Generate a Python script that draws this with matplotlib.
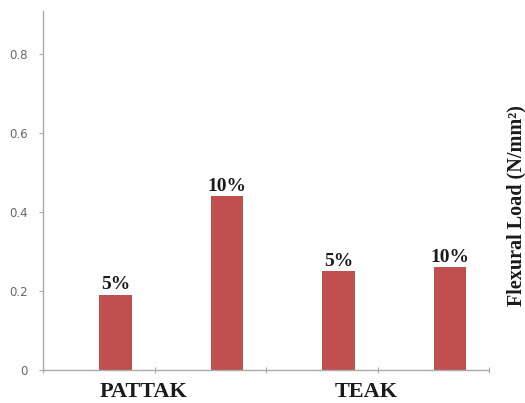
import matplotlib
matplotlib.use("Agg")
import matplotlib.pyplot as plt
import numpy as np

groups = ["PATTAK", "TEAK"]
bar_labels = ["5%", "10%", "5%", "10%"]
values = [0.19, 0.44, 0.25, 0.26]
yticks = [0, 0.2, 0.4, 0.6, 0.8]
ytick_labels = ["0", "0.2", "0.4", "0.6", "0.8"]
ylabel = "Flexural Load (N/mm²)"

fig = plt.figure(figsize=(5.25, 4.03), dpi=100)
ax = fig.add_axes([43/525, 33/403, (489-43)/525, (370-11)/403])

x = np.arange(len(values)) + 0.65
color = "#C0504D"
ax.bar(x, values, width=0.29, color=color)
serif = ["Liberation Serif", "DejaVu Serif"]
for xi, v, lab in zip(x, values, bar_labels):
    ax.text(xi, v + 0.004, lab, ha="center", va="bottom", fontsize=14,
            fontweight="bold", family=serif, color="#1a1a1a")

ax.set_xlim(0, len(values))
ax.set_ylim(0, 0.909)
ax.set_yticks(yticks)
ax.set_yticklabels(ytick_labels, fontsize=8.5, color="#666666")
ax.set_xticks(np.arange(len(values) + 1))
ax.set_xticklabels([])
ax.tick_params(axis="x", direction="inout", length=5, color="#aaaaaa")
ax.tick_params(axis="y", direction="out", length=3, color="#aaaaaa", pad=8)

for s in ["top", "right"]:
    ax.spines[s].set_visible(False)
for s in ["left", "bottom"]:
    ax.spines[s].set_color("#aaaaaa")
    ax.spines[s].set_linewidth(1.0)

n_per = len(values) // len(groups)
for gi, g in enumerate(groups):
    cx = np.mean(x[gi*n_per:(gi+1)*n_per])
    ax.text(cx - 0.25, -0.055, g, ha="center", va="center", fontsize=16,
            fontweight="bold", family=serif, color="#1a1a1a")

fig.text(0.983, 0.49, ylabel, rotation=90, ha="center", va="center",
         fontsize=14.5, fontweight="bold", family=serif, color="#1a1a1a")

fig.savefig("out.png", dpi=100)
